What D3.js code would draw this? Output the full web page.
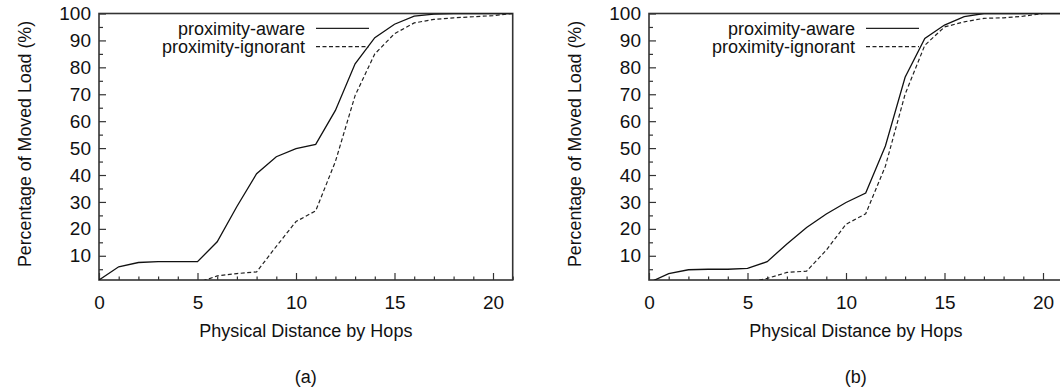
<!DOCTYPE html>
<html>
<head>
<meta charset="utf-8">
<script src="https://cdn.jsdelivr.net/npm/d3@7"></script>
<style>
  html, body { margin: 0; padding: 0; background: #fff; }
  svg { display: block; font-family: 'Liberation Sans', Arial, Helvetica, sans-serif; }
  .tick text { font-size: 19px; fill: #111; }
  .tick line { stroke: #333; stroke-width: 1.2; }
</style>
</head>
<body>
<svg id="chart" width="1060" height="392"></svg>
<script>
// hop counts (x categories)
const hops = [0, 1, 2, 3, 4, 5, 6, 7, 8, 9, 10, 11, 12, 13, 14, 15, 16, 17, 18, 19, 20, 21];

// (a) cumulative moved load, %
const awareA   = [1, 5.9, 7.5, 7.8, 7.8, 7.8, 15.2, 28.3, 40.5, 46.8, 49.8, 51.4, 64, 81.3, 91, 96, 99, 99.8, 100, 100, 100, 100];
const ignorantA = [0, 0, 0, 0, 0, 0, 2.5, 3.4, 4, 13.5, 22.7, 26.7, 45, 69.5, 85, 92.5, 96.5, 97.8, 98.4, 98.8, 99.2, 100];

// (b)
const awareB   = [0, 3.4, 4.8, 5, 5, 5.3, 7.8, 14.4, 20.5, 25.5, 29.8, 33.3, 50.8, 76.3, 90.7, 95.7, 98.8, 100, 100, 100, 100, 100];
const ignorantB = [0, 0, 0, 0, 0, 0, 1.6, 3.8, 4.3, 12.1, 21.7, 25.6, 43.3, 70, 88.2, 95, 96.9, 98.2, 98.4, 99, 100, 100];

const yMajor = [10, 20, 30, 40, 50, 60, 70, 80, 90, 100];
const yMinor = [5, 15, 25, 35, 45, 55, 65, 75, 85, 95];
const xMajor = [0, 5, 10, 15, 20];
const xMinor = [1, 2, 3, 4, 6, 7, 8, 9, 11, 12, 13, 14, 16, 17, 18, 19, 21];

const seriesNames = ['proximity-aware', 'proximity-ignorant'];
const panels = [
  { label: '(a)', aware: awareA, ignorant: ignorantA, dx: 0 },
  { label: '(b)', aware: awareB, ignorant: ignorantB, dx: 550 },
];

const svg = d3.select('#chart');
const plotL = 99, plotR = 512.7, plotT = 13.5, plotB = 280;

const x = d3.scaleLinear().domain([0, 21]).range([plotL, plotR]);
const y = d3.scaleLinear().domain([1, 100]).range([plotB, plotT]);

panels.forEach((p, i) => {
  const g = svg.append('g').attr('transform', `translate(${p.dx},0)`);

  const clipId = 'clip' + i;
  g.append('clipPath').attr('id', clipId)
    .append('rect')
    .attr('x', plotL).attr('y', plotT)
    .attr('width', plotR - plotL).attr('height', plotB - plotT);

  // minor ticks
  g.append('g').attr('transform', `translate(${plotL},0)`)
    .call(d3.axisLeft(y).tickValues(yMinor).tickSize(-4).tickFormat(''))
    .call(a => a.select('.domain').remove());
  g.append('g').attr('transform', `translate(0,${plotB})`)
    .call(d3.axisBottom(x).tickValues(xMinor).tickSize(-3.5).tickFormat(''))
    .call(a => a.select('.domain').remove());

  // major ticks + labels
  g.append('g').attr('transform', `translate(${plotL},0)`)
    .call(d3.axisLeft(y).tickValues(yMajor).tickSize(-7).tickPadding(8))
    .call(a => a.select('.domain').remove());
  g.append('g').attr('transform', `translate(0,${plotB})`)
    .call(d3.axisBottom(x).tickValues(xMajor).tickSize(-7).tickPadding(16))
    .call(a => a.select('.domain').remove());

  // frame
  g.append('rect')
    .attr('x', plotL).attr('y', plotT)
    .attr('width', plotR - plotL).attr('height', plotB - plotT)
    .attr('fill', 'none').attr('stroke', '#333').attr('stroke-width', 1.6);

  const line = d3.line().x((d, j) => x(hops[j])).y(d => y(d));

  const lines = g.append('g').attr('clip-path', `url(#${clipId})`);
  lines.append('path').datum(p.aware)
    .attr('d', line).attr('fill', 'none')
    .attr('stroke', '#111').attr('stroke-width', 1.3);
  lines.append('path').datum(p.ignorant)
    .attr('d', line).attr('fill', 'none')
    .attr('stroke', '#222').attr('stroke-width', 1.2)
    .attr('stroke-dasharray', '4,2.5');

  // legend
  const leg = g.append('g');
  seriesNames.forEach((name, k) => {
    const ly = 28.3 + k * 18.4;
    leg.append('text')
      .attr('x', 305).attr('y', ly).attr('dy', '0.35em')
      .attr('text-anchor', 'end')
      .style('font-size', '18px').style('fill', '#111')
      .text(name);
    leg.append('line')
      .attr('x1', 316).attr('x2', 369).attr('y1', ly).attr('y2', ly)
      .attr('stroke', '#222').attr('stroke-width', 1.2)
      .attr('stroke-dasharray', k ? '4,2.5' : null);
  });

  // axis titles
  g.append('text')
    .attr('transform', `translate(31,144) rotate(-90)`)
    .attr('text-anchor', 'middle')
    .style('font-size', '17.8px').style('fill', '#111')
    .text('Percentage of Moved Load (%)');
  g.append('text')
    .attr('x', (plotL + plotR) / 2).attr('y', 336.5)
    .attr('text-anchor', 'middle')
    .style('font-size', '18px').style('fill', '#111')
    .text('Physical Distance by Hops');
  g.append('text')
    .attr('x', (plotL + plotR) / 2).attr('y', 383)
    .attr('text-anchor', 'middle')
    .style('font-size', '18px').style('fill', '#111')
    .text(p.label);
});
</script>
</body>
</html>
